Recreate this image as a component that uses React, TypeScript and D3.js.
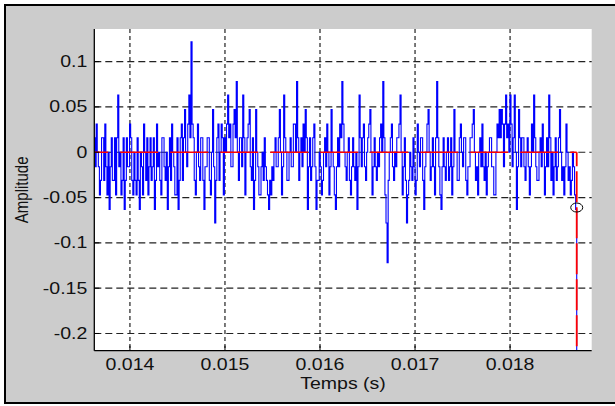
import React from "react";
import * as d3 from "d3";

// ---- data ----
const START_TIME = 0.013622; // s, first sample
const SAMPLE_RATE = 88200; // Hz
const signal: number[] = [
  0.016, -0.016, 0.031, 0.0, -0.016, -0.047, -0.031, 0.016, 0.016, -0.031, 0.031, -0.016, -0.047, 0.0, -0.063, -0.016, 0.016, -0.031, -0.031, 0.016,
  -0.047, 0.016, 0.063, -0.016, 0.0, -0.047, -0.031, 0.016, -0.063, -0.031, 0.016, -0.016, -0.016, 0.031, 0.016, -0.031, -0.047, 0.0, -0.031, -0.047,
  0.016, -0.031, -0.063, 0.0, -0.016, -0.047, 0.031, 0.0, -0.031, 0.016, -0.047, -0.016, 0.016, -0.031, -0.016, 0.016, -0.063, -0.031, 0.031, -0.016,
  0.0, -0.031, -0.047, 0.016, 0.016, -0.016, -0.031, 0.0, -0.063, -0.016, 0.016, -0.031, 0.031, 0.0, -0.016, -0.047, -0.047, 0.016, -0.063, -0.031,
  0.016, 0.031, -0.031, 0.016, 0.047, 0.0, -0.016, 0.031, 0.063, 0.016, 0.122, 0.031, 0.016, -0.031, -0.047, 0.0, 0.031, -0.016, -0.031, 0.016,
  0.016, -0.031, -0.063, -0.016, -0.016, 0.016, 0.016, -0.031, -0.047, 0.0, 0.047, -0.016, -0.078, -0.031, 0.016, 0.031, -0.031, 0.0, 0.031, 0.016,
  -0.047, 0.016, 0.0, 0.031, 0.063, 0.016, 0.031, -0.016, -0.016, 0.031, 0.047, 0.016, 0.078, 0.0, -0.031, 0.016, 0.016, -0.016, 0.063, 0.016,
  -0.047, 0.0, 0.016, 0.031, 0.047, -0.016, -0.031, 0.016, -0.063, -0.031, 0.047, 0.0, -0.016, -0.047, -0.047, -0.016, 0.0, -0.031, 0.016, -0.016,
  -0.031, -0.047, -0.063, -0.031, -0.047, -0.016, -0.031, 0.0, 0.016, -0.016, -0.016, 0.016, 0.047, 0.0, -0.047, -0.016, 0.063, 0.016, 0.0, -0.031,
  -0.031, 0.0, 0.016, -0.016, -0.016, 0.031, 0.031, 0.0, 0.078, 0.016, -0.031, 0.0, 0.016, -0.016, 0.031, 0.0, 0.047, 0.016, -0.063, -0.016,
  0.016, -0.031, -0.016, 0.016, 0.031, -0.016, -0.063, -0.031, -0.031, 0.0, -0.016, -0.047, -0.031, 0.0, 0.016, -0.016, 0.031, 0.0, -0.047, -0.016,
  0.047, 0.0, -0.016, -0.047, -0.063, -0.016, 0.016, -0.016, 0.031, 0.016, 0.078, 0.031, 0.0, -0.016, -0.031, 0.0, 0.016, -0.031, -0.047, -0.016,
  0.016, -0.016, -0.031, 0.0, -0.063, -0.016, 0.063, 0.016, -0.016, 0.016, 0.031, -0.016, -0.031, 0.0, 0.016, 0.031, 0.047, 0.0, -0.047, -0.016,
  0.016, -0.016, -0.031, 0.0, -0.016, 0.016, 0.031, 0.0, 0.078, 0.016, -0.047, -0.078, -0.122, -0.031, 0.0, 0.016, 0.031, -0.016, -0.031, 0.0,
  -0.016, 0.016, 0.016, 0.031, 0.063, 0.0, -0.047, -0.016, 0.016, -0.031, -0.078, -0.047, -0.031, 0.0, -0.016, -0.031, 0.016, -0.016, -0.047, -0.031,
  0.031, 0.0, -0.016, 0.016, 0.016, -0.031, -0.063, -0.016, 0.0, 0.031, 0.047, 0.0, -0.031, -0.016, 0.016, -0.016, -0.047, 0.016, 0.078, 0.016,
  -0.016, -0.047, -0.063, -0.016, 0.016, -0.016, -0.031, 0.0, 0.016, -0.031, -0.016, 0.016, -0.047, -0.016, 0.047, 0.0, 0.0, -0.031, -0.031, 0.016,
  0.031, 0.0, -0.016, 0.016, 0.016, -0.031, -0.047, -0.016, -0.016, 0.016, 0.016, 0.031, 0.047, 0.0, -0.031, -0.016, -0.047, 0.0, 0.016, -0.016,
  0.031, -0.016, -0.031, 0.0, -0.047, -0.016, 0.0, 0.016, 0.016, -0.016, -0.016, -0.047, -0.047, 0.0, 0.031, 0.016, 0.047, 0.016, 0.047, 0.031,
  -0.016, 0.031, 0.063, 0.016, 0.031, 0.0, 0.063, 0.031, -0.016, 0.016, 0.063, 0.0, -0.063, -0.016, 0.047, 0.016, -0.016, 0.016, 0.016, -0.016,
  -0.031, 0.0, 0.016, -0.016, -0.047, -0.016, 0.031, 0.0, 0.063, 0.016, -0.016, -0.031, -0.031, 0.0, 0.016, -0.016, 0.031, 0.0, -0.047, -0.016,
  0.016, -0.016, 0.063, 0.016, -0.031, 0.0, -0.047, -0.016, 0.016, -0.031, -0.016, 0.016, 0.047, 0.0, -0.031, -0.016, -0.047, -0.016, 0.031, 0.0,
  -0.031, -0.016, -0.047, -0.031, 0.0, -0.016, -0.047, -0.063, -0.22,
];
const ENVELOPE_END_INDEX = 448;
const ENVELOPE_LEVEL = 0;
const ENVELOPE_DROP = -0.22;
const MARKER_VALUE = -0.061;
const xTicks = [0.014, 0.015, 0.016, 0.017, 0.018];
const xTickLabels = ["0.014", "0.015", "0.016", "0.017", "0.018"];
const yTicks = [0.1, 0.05, 0, -0.05, -0.1, -0.15, -0.2];
const yTickLabels = ["0.1", "0.05", "0", "-0.05", "-0.1", "-0.15", "-0.2"];
const X_DOMAIN = [0.013625, 0.018859];
const Y_DOMAIN = [-0.219, 0.136];
const X_LABEL = "Temps (s)";
const Y_LABEL = "Amplitude";

export default function App() {
  const W = 615,
    H = 406;
  const L = 94.3,
    R = 591.7,
    T = 29,
    B = 350.7;
  const x = d3.scaleLinear().domain(X_DOMAIN).range([L, R]);
  const y = d3.scaleLinear().domain(Y_DOMAIN).range([B, T]);
  const pts: [number, number][] = signal.map((v, i) => [START_TIME + i / SAMPLE_RATE, v]);
  const line = d3
    .line<[number, number]>()
    .x((d) => x(d[0]))
    .y((d) => y(d[1]));
  const stepLine = d3
    .line<[number, number]>()
    .curve(d3.curveStepAfter)
    .x((d) => x(d[0]))
    .y((d) => y(d[1]));
  const tEnd = START_TIME + ENVELOPE_END_INDEX / SAMPLE_RATE;
  const redH = line([
    [START_TIME, ENVELOPE_LEVEL],
    [tEnd, ENVELOPE_LEVEL],
  ]) as string;
  const redV = line([
    [tEnd, ENVELOPE_LEVEL],
    [tEnd, ENVELOPE_DROP],
  ]) as string;
  const font = "'Liberation Sans', Arial, sans-serif";
  const sx = 1.22;
  return (
    <svg
      width={W}
      height={H}
      style={{ position: "absolute", left: 0, top: 0, background: "#fff" }}
    >
      <defs>
        <clipPath id="plotclip">
          <rect x={L} y={T} width={R - L} height={B - T} />
        </clipPath>
      </defs>
      <rect x={5} y={5} width={640} height={398} fill="#cccccc" stroke="#000" strokeWidth={2} />
      <rect x={L} y={T} width={R - L} height={B - T} fill="#fff" />
      {/* grid */}
      {yTicks.map((v) => (
        <line
          key={"gy" + v}
          x1={L}
          x2={R}
          y1={y(v)}
          y2={y(v)}
          stroke="#222"
          strokeWidth={1.2}
          strokeDasharray="7,4"
        />
      ))}
      {xTicks.map((v) => (
        <line
          key={"gx" + v}
          x1={x(v)}
          x2={x(v)}
          y1={T}
          y2={B}
          stroke="#222"
          strokeWidth={1.2}
          strokeDasharray="4,3"
        />
      ))}
      <g clipPath="url(#plotclip)">
        <path d={stepLine(pts) as string} fill="none" stroke="#0000ff" strokeWidth={1.1} />
        <path
          d={redH}
          fill="none"
          stroke="#ff0000"
          strokeWidth={1.6}
          strokeDasharray="38,12"
          strokeDashoffset={23.8}
        />
        <path
          d={redV}
          fill="none"
          stroke="#ff0000"
          strokeWidth={1.8}
          strokeDasharray="31,5"
          strokeDashoffset={17}
        />
      </g>
      <ellipse
        cx={x(tEnd)}
        cy={y(MARKER_VALUE)}
        rx={6}
        ry={4.5}
        fill="none"
        stroke="#000"
        strokeWidth={1}
      />
      {/* axes */}
      <line x1={L} x2={L} y1={T} y2={B} stroke="#000" strokeWidth={1.3} />
      <line x1={L} x2={R} y1={B} y2={B} stroke="#000" strokeWidth={1.3} />
      {yTicks.map((v) => (
        <line key={"ty" + v} x1={L} x2={L + 5} y1={y(v)} y2={y(v)} stroke="#000" />
      ))}
      {xTicks.map((v) => (
        <line key={"tx" + v} x1={x(v)} x2={x(v)} y1={B} y2={B - 5} stroke="#000" />
      ))}
      {yTicks.map((v, i) => (
        <text
          key={"ly" + v}
          transform={`translate(${L - 7},${y(v) + 5.5}) scale(${sx},1)`}
          textAnchor="end"
          fontFamily={font}
          fontSize={16}
          fill="#111"
        >
          {yTickLabels[i]}
        </text>
      ))}
      {xTicks.map((v, i) => (
        <text
          key={"lx" + v}
          transform={`translate(${x(v)},${370}) scale(${sx},1)`}
          textAnchor="middle"
          fontFamily={font}
          fontSize={16}
          fill="#111"
        >
          {xTickLabels[i]}
        </text>
      ))}
      <text
        transform={`translate(${(L + R) / 2},${389}) scale(${sx},1)`}
        textAnchor="middle"
        fontFamily={font}
        fontSize={16}
        fill="#111"
      >
        {X_LABEL}
      </text>
      <text
        transform={`translate(28,${(T + B) / 2}) scale(${sx},1) rotate(-90)`}
        textAnchor="middle"
        fontFamily={font}
        fontSize={15}
        fill="#111"
      >
        {Y_LABEL}
      </text>
    </svg>
  );
}
